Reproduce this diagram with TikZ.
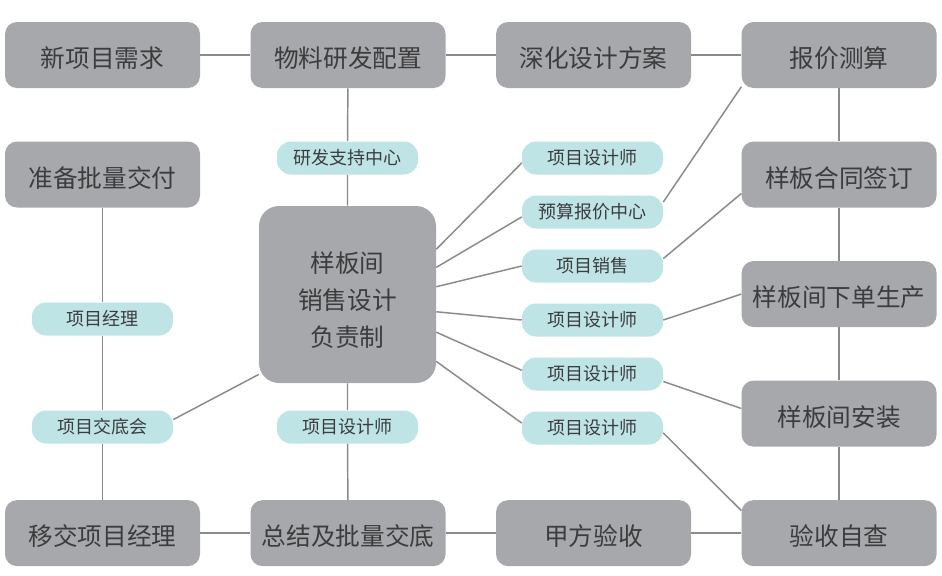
\documentclass[tikz,border=0pt]{standalone}
\usepackage{fontspec}
\usetikzlibrary{positioning}
\newfontfamily\cjk{Noto Sans CJK SC}
\definecolor{boxgray}{HTML}{A7A8AB}
\definecolor{tagcyan}{HTML}{BEE4E6}
\definecolor{linegray}{HTML}{8A8A8C}
\definecolor{txtgray}{HTML}{3C3C3E}
\tikzset{
  stagebox/.style={fill=boxgray,rounded corners=9pt,minimum width=146.25pt,minimum height=49.5pt,inner sep=0pt,text height=20.5pt,text=txtgray,font=\cjk\fontsize{18.5pt}{22pt}\selectfont},
  hubbox/.style={fill=boxgray,rounded corners=15pt,minimum size=132.75pt,inner sep=0pt,align=center,text=txtgray,font=\cjk\fontsize{18.5pt}{27.75pt}\selectfont},
  roletag/.style={fill=tagcyan,rounded corners=10.5pt,minimum width=105.75pt,minimum height=24.75pt,inner sep=0pt,text=txtgray,font=\cjk\fontsize{13.5pt}{16pt}\selectfont},
  link/.style={draw=linegray,line width=1.1pt}
}

\begin{document}
\begin{tikzpicture}[x=0.75pt,y=-0.75pt,node distance=39.75pt and 37.5pt]
\useasboundingbox (0,0) rectangle (942,575);
% outer ring of stages
\node[stagebox] (xq) at (102.5,55) {新项目需求};
\node[stagebox,right=of xq] (wl) {物料研发配置};
\node[stagebox,right=of wl] (sh) {深化设计方案};
\node[stagebox,right=of sh] (bj) {报价测算};
\node[stagebox,below=of xq] (zb) {准备批量交付};
\node[stagebox,below=of bj] (ht) {样板合同签订};
\node[stagebox,below=of ht] (xd) {样板间下单生产};
\node[stagebox,below=of xd] (az) {样板间安装};
\node[stagebox,below=of az] (ys) {验收自查};
\node[stagebox,left=of ys] (jf) {甲方验收};
\node[stagebox,left=of jf] (zj) {总结及批量交底};
\node[stagebox,left=of zj] (yj) {移交项目经理};
% hub
\node[hubbox] (fz) at (347.5,294.5) {\rule{0pt}{24pt}样板间\\销售设计\\负责制};
% roles
\node[roletag] (yfzx) at (347.5,158) {研发支持中心};
\node[roletag] (sjsa) at (347.5,427) {项目设计师};
\node[roletag] (xmjl) at (102.5,319) {项目经理};
\node[roletag] (jdh) at (102.5,427) {项目交底会};
\node[roletag] (sjsb) at (592.5,158) {项目设计师};
\node[roletag] (ysbj) at (592.5,212) {预算报价中心};
\node[roletag] (xmxs) at (592.5,266) {项目销售};
\node[roletag] (sjsc) at (592.5,320) {项目设计师};
\node[roletag] (sjsd) at (592.5,374) {项目设计师};
\node[roletag] (sjse) at (592.5,428) {项目设计师};
% links
\draw[link] (xq)--(wl) (wl)--(sh) (sh)--(bj);
\draw[link] (yj)--(zj) (zj)--(jf) (jf)--(ys);
\draw[link] (bj)--(ht) (ht)--(xd) (xd)--(az) (az)--(ys);
\draw[link] (zb)--(xmjl) (xmjl)--(jdh) (jdh)--(yj);
\draw[link] (wl)--(yfzx) (yfzx)--(fz) (fz)--(sjsa) (sjsa)--(zj);
\draw[link] (fz.27)--(sjsb.184) (fz.17)--(ysbj.184) (fz.5)--(xmxs.west)
  (fz.-11)--(sjsc.west) (fz.-23)--(sjsd.177) (fz.-37)--(sjse.176);
\draw[link] (ysbj.8)--(bj.198) (xmxs.6)--(ht.191) (sjsc.east)--(xd.west)
  (sjsd.-6)--(az.177) (sjse.-4)--(ys.167);
\draw[link] (jdh.6)--(fz.222);
\end{tikzpicture}
\end{document}
